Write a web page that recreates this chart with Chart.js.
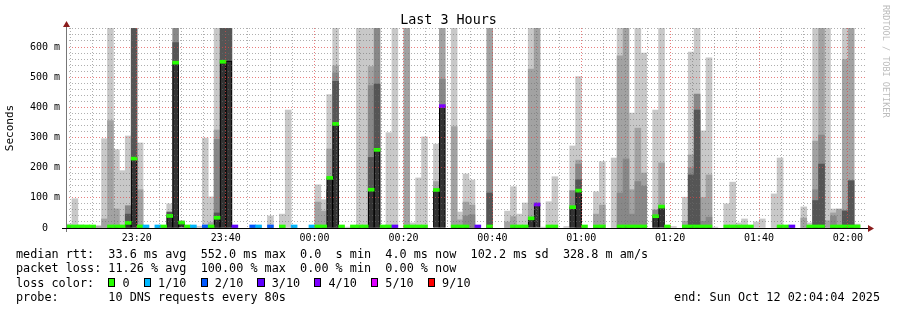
<!DOCTYPE html>
<html>
<head>
<meta charset="utf-8">
<script src="https://cdn.jsdelivr.net/npm/chart.js@4.4.1/dist/chart.umd.min.js"></script>
<style>
  html, body { margin: 0; padding: 0; background: #fff; }
  #wrap { position: relative; width: 897px; height: 310px; overflow: hidden; }
  canvas { position: absolute; left: 0; top: 0; }
  .mono { position: absolute; font-family: "DejaVu Sans Mono", monospace; color: #000; white-space: pre; }
  #title { left: 0; width: 897px; top: 12px; text-align: center; font-size: 13.4px; line-height: 16px; }
  .leg { left: 16px; font-size: 11.8px; line-height: 14.4px; }
  .box { display: inline-block; width: calc(1ch - 2px); height: 7px; border: 1px solid #000; vertical-align: middle; position: relative; top: -1px; }
  #stamp { right: 17px; top: 290px; font-size: 11.8px; line-height: 14.4px; }
  #rrd { left: 881px; top: 5px; writing-mode: vertical-rl; font-size: 8.5px; color: #bcbcbc; }
</style>
</head>
<body>
<div id="wrap">
  <canvas id="chart" width="897" height="310"></canvas>
  <div id="title" class="mono">Last 3 Hours</div>
  <div id="rrd" class="mono">RRDTOOL / TOBI OETIKER</div>
  <div class="mono leg" style="top:247px">median rtt:  33.6 ms avg  552.0 ms max  0.0  s min  4.0 ms now  102.2 ms sd  328.8 m am/s</div>
  <div class="mono leg" style="top:261.4px">packet loss: 11.26 % avg  100.00 % max  0.00 % min  0.00 % now</div>
  <div class="mono leg" id="lossLine" style="top:275.8px"></div>
  <div class="mono leg" style="top:290.2px">probe:       10 DNS requests every 80s</div>
  <div id="stamp" class="mono">end: Sun Oct 12 02:04:04 2025</div>
</div>
<script>
// 135 steps of 80s, first step starts 23:04:04 (minutes counted from 23:00)
const START = 4 + 4 / 60;
const STEP = 80 / 60;
const BINS = 135;

// x ticks (minutes after 23:00) that carry a label
const xTickMinutes = [20, 40, 60, 80, 100, 120, 140, 160, 180];
const xTickLabels = ['23:20', '23:40', '00:00', '00:20', '00:40', '01:00', '01:20', '01:40', '02:00'];
// y values (ms) that carry a label
const yLabelValues = [0, 100, 200, 300, 400, 500, 600];

// smoke layers, height in ms from 0 (700 = off the top of the graph)
const smokeLight = [
  13, 97, 10, 8, 6, 8, 296, 700, 260, 190,
  305, null, 282, 5, null, null, null, 80, null, 24,
  null, 5, 6, 298, 103, 700, null, null, null, null,
  null, null, 5, null, 40, null, 46, 391, null, null,
  null, null, 143, 94, 442, 700, 5, 3, 7, 700,
  700, 700, null, null, 316, 700, null, null, 17, 166,
  302, null, 278, null, null, 700, 53, 179, 159, null,
  null, null, null, null, 56, 137, 46, 83, 700, null,
  3, 87, 170, null, 5, 272, 502, null, null, 120,
  220, null, 232, 700, null, 381, 700, 580, null, 391,
  700, null, 5, null, 102, 583, 700, 322, 564, 3,
  null, 80, 152, 17, 30, 5, 20, 30, null, 113,
  232, 6, null, null, 70, 17, 700, null, 700, 63,
  null, 700, null, 13, null
];
const smokeMid = [
  null, null, null, null, null, 5, 30, 356, 63, null,
  null, null, 127, null, null, null, null, null, null, null,
  null, null, null, null, 18, 325, null, null, null, null,
  null, null, null, null, null, null, null, null, null, null,
  null, null, 86, 56, 262, 538, null, null, null, null,
  null, 535, null, null, null, null, null, 700, null, null,
  null, null, 154, 700, null, 336, 27, 86, 76, null,
  null, 700, null, null, 20, 38, null, null, 527, 700,
  null, null, null, null, null, null, 225, null, null, 46,
  76, null, null, 571, 700, 127, 331, 182, null, null,
  216, null, null, null, 22, 242, null, 101, 176, null,
  null, null, null, null, null, null, null, null, null, null,
  6, null, null, null, 33, null, 288, 700, 24, 50,
  63, 558, 700, null, null
];
const smokeDark = [
  null, null, null, null, null, null, null, null, null, null,
  74, null, null, null, null, null, null, null, 700, null,
  null, null, null, null, null, 294, null, null, null, null,
  null, null, null, null, null, null, null, null, null, null,
  null, null, null, null, null, 514, null, null, null, null,
  null, 472, 700, null, null, null, null, null, null, null,
  null, null, null, 494, null, null, null, 40, 44, null,
  null, 292, null, null, null, null, null, null, null, null,
  null, null, null, null, null, 124, 212, null, null, null,
  null, null, null, 116, 229, 46, 154, 139, null, 60,
  null, null, null, null, null, 199, 444, 22, 36, null,
  null, null, null, null, null, null, null, null, null, null,
  null, null, null, null, null, null, 127, 308, null, 40,
  null, null, null, null, null
];
const smokeDeep = [
  null, null, null, null, null, null, null, null, null, null,
  46, 700, null, null, null, null, null, 53, 615, null,
  null, null, null, null, null, 50, 700, 700, null, null,
  null, null, null, null, null, null, null, null, null, null,
  null, null, null, null, 127, 486, null, null, null, null,
  null, 234, 477, null, null, null, null, null, null, null,
  null, null, null, null, null, null, null, null, null, null,
  null, 116, null, null, null, null, null, null, null, null,
  null, null, null, null, null, null, 160, null, null, null,
  null, null, null, null, null, null, null, null, null, null,
  null, null, null, null, null, 176, 391, null, null, null,
  null, null, null, null, null, null, null, null, null, null,
  null, null, null, null, null, null, 91, 212, null, null,
  null, 57, 157, null, null
];
// median rtt in ms
const medianRtt = [
  3, 3, 3, 3, 3, null, null, 3, 3, 3,
  17, 230, 3, 3, null, 3, 3, 40, 548, 18,
  3, 3, null, 3, 3, 34, 551, 553, 3, null,
  null, 3, 3, null, 3, null, 3, null, 3, null,
  null, 3, 3, 3, 166, 345, 3, null, 3, 3,
  3, 127, 259, 3, 3, 3, null, 3, 3, 3,
  3, null, 126, 404, null, 3, 3, 3, null, 3,
  null, 3, null, null, null, 3, 3, 3, 32, 78,
  null, 3, 3, null, null, 69, 124, 3, null, 3,
  3, null, null, 3, 3, 3, 3, 3, null, 39,
  71, 3, null, null, 3, 3, 3, 3, 3, null,
  null, 3, 3, 3, 3, 3, null, null, null, null,
  3, 3, 3, null, null, 3, 3, 3, null, 3,
  3, 3, 3, 3, null
];
// lost pings out of 10 (colour of the median mark)
const lostPings = [
  0, 0, 0, 0, 0, null, null, 0, 0, 0,
  0, 0, 0, 1, null, 1, 0, 0, 0, 0,
  0, 1, null, 2, 0, 0, 0, null, 3, null,
  null, 2, 1, null, 2, null, 0, null, 1, null,
  null, 1, 0, 0, 0, 0, 0, null, 0, 0,
  0, 0, 0, 0, 0, 3, null, 0, 0, 0,
  0, null, 0, 4, null, 0, 0, 0, null, 3,
  null, 0, null, null, null, 0, 0, 0, 0, 4,
  null, 0, 0, null, null, 0, 0, 0, null, 0,
  0, null, null, 0, 0, 0, 0, 0, null, 0,
  0, 0, null, null, 0, 0, 0, 0, 0, null,
  null, 0, 0, 0, 0, 0, null, null, null, null,
  0, 0, 3, null, null, 0, 0, 0, null, 0,
  0, 0, 0, 0, null
];

const lossLegendCounts = [0, 1, 2, 3, 4, 5, 9];
const lossLegendLabels = ['0', '1/10', '2/10', '3/10', '4/10', '5/10', '9/10'];
const lossLegendColors = ['#26ff00', '#00b8ff', '#0059ff', '#5e00ff', '#7e00ff', '#dd00ff', '#ff0000'];

const MAJOR = 'rgba(225, 70, 70, 0.7)';
const MINOR = 'rgba(110, 110, 110, 0.55)';
const MONO = 'DejaVu Sans Mono';

function lossColor(n) {
    let c = lossLegendColors[0];
    lossLegendCounts.forEach((k, i) => { if (n >= k) c = lossLegendColors[i]; });
    return c;
}

function binX(i) {
    return START + (i + 0.5) * STEP;
}

// floating bars from 0 up to the layer height
function layer(values) {
    const out = [];
    values.forEach((v, i) => { if (v != null) out.push({ x: binX(i), y: [0, v] }); });
    return out;
}

const capData = [];
const capColors = [];
medianRtt.forEach((m, i) => {
    if (m == null || lostPings[i] == null) return;
    capData.push({ x: binX(i), y: [Math.max(0, m - 5), Math.max(m + 5, 10)] });
    capColors.push(lossColor(lostPings[i]));
});

// loss colour legend line
const lossLine = document.getElementById('lossLine');
let html = 'loss color:  ';
lossLegendLabels.forEach((lab, i) => {
    html += '<span class="box" style="background:' + lossLegendColors[i] + '"></span> ' + lab + (i < lossLegendLabels.length - 1 ? '  ' : '');
});
lossLine.innerHTML = html;

// axis lines with the little red arrows
const axisArrows = {
    id: 'axisArrows',
    afterDraw(chart) {
        const { ctx, chartArea: a } = chart;
        ctx.save();
        ctx.lineWidth = 1;
        ctx.strokeStyle = '#777';
        ctx.beginPath();
        ctx.moveTo(a.left + 0.5, a.bottom + 4);
        ctx.lineTo(a.left + 0.5, a.top - 2);
        ctx.stroke();
        ctx.strokeStyle = '#000';
        ctx.beginPath();
        ctx.moveTo(a.left - 4, a.bottom + 0.5);
        ctx.lineTo(a.right + 2, a.bottom + 0.5);
        ctx.stroke();
        ctx.fillStyle = '#8b1c1c';
        ctx.beginPath();
        ctx.moveTo(a.left + 0.5, a.top - 7);
        ctx.lineTo(a.left - 3, a.top - 1);
        ctx.lineTo(a.left + 4, a.top - 1);
        ctx.fill();
        ctx.beginPath();
        ctx.moveTo(a.right + 8, a.bottom + 0.5);
        ctx.lineTo(a.right + 2, a.bottom - 3);
        ctx.lineTo(a.right + 2, a.bottom + 4);
        ctx.fill();
        ctx.restore();
    }
};

const barBase = { grouped: false, barPercentage: 1, categoryPercentage: 1, borderWidth: 0 };

new Chart(document.getElementById('chart').getContext('2d'), {
    type: 'bar',
    data: {
        datasets: [
            { ...barBase, data: layer(smokeLight), backgroundColor: '#c8c8c8', order: 6 },
            { ...barBase, data: layer(smokeMid), backgroundColor: '#a2a2a2', order: 5 },
            { ...barBase, data: layer(smokeDark), backgroundColor: '#888888', order: 4 },
            { ...barBase, data: layer(smokeDeep), backgroundColor: '#555555', order: 3 },
            { ...barBase, data: layer(medianRtt), backgroundColor: '#333333', borderColor: '#000', borderWidth: 1, borderSkipped: 'start', order: 2 },
            { ...barBase, data: capData, backgroundColor: capColors, order: 1 }
        ]
    },
    options: {
        responsive: false,
        animation: false,
        layout: { padding: { left: 0, right: 31, top: 28, bottom: 0 } },
        plugins: {
            legend: { display: false },
            tooltip: { enabled: false },
            title: { display: false }
        },
        scales: {
            x: {
                type: 'linear',
                min: START,
                max: START + BINS * STEP,
                offset: false,
                afterFit(s) { s.height = 82; },
                afterBuildTicks(s) {
                    const t = [];
                    for (let v = 5; v <= 180; v += 5) t.push({ value: v });
                    s.ticks = t;
                },
                ticks: {
                    autoSkip: false,
                    maxRotation: 0,
                    padding: 4,
                    color: '#000',
                    font: { family: MONO, size: 10 },
                    callback: v => {
                        const k = xTickMinutes.indexOf(v);
                        return k < 0 ? '' : xTickLabels[k];
                    }
                },
                grid: {
                    z: 1,
                    offset: false,
                    drawTicks: false,
                    lineWidth: 1,
                    borderDash: [1, 2],
                    color: c => (c.tick && xTickMinutes.includes(c.tick.value)) ? MAJOR : MINOR
                },
                border: { display: false, dash: [1, 2] }
            },
            y: {
                type: 'linear',
                min: 0,
                max: 663,
                afterFit(s) { s.width = 66; },
                afterBuildTicks(s) {
                    const t = [];
                    for (let v = 0; v <= 660; v += 20) t.push({ value: v });
                    s.ticks = t;
                },
                ticks: {
                    autoSkip: false,
                    padding: 6,
                    color: '#000',
                    font: { family: MONO, size: 10 },
                    callback: v => {
                        if (!yLabelValues.includes(v)) return '';
                        return v === 0 ? '0  ' : v + ' m';
                    }
                },
                grid: {
                    z: 1,
                    drawTicks: false,
                    lineWidth: 1,
                    borderDash: [1, 2],
                    color: c => (c.tick && yLabelValues.includes(c.tick.value)) ? MAJOR : MINOR
                },
                border: { display: false, dash: [1, 2] },
                title: {
                    display: true,
                    text: 'Seconds',
                    color: '#000',
                    font: { family: MONO, size: 11 },
                    padding: { top: 4, bottom: 0 }
                }
            }
        }
    },
    plugins: [axisArrows]
});
</script>
</body>
</html>
